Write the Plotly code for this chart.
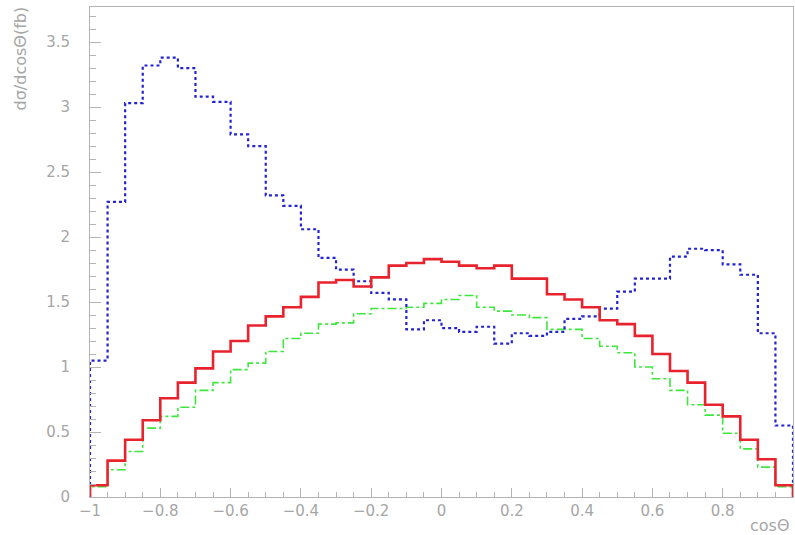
import plotly.graph_objects as go

# 40 bins of width 0.05 over cos(theta) in [-1, 1]
bin_edges = [round(-1 + 0.05 * i, 2) for i in range(41)]

blue_dsigma = [1.05, 2.27, 3.03, 3.32, 3.38, 3.30, 3.08, 3.04, 2.79, 2.70,
               2.32, 2.24, 2.06, 1.84, 1.75, 1.66, 1.57, 1.52, 1.29, 1.36,
               1.30, 1.27, 1.31, 1.18, 1.26, 1.24, 1.27, 1.37, 1.39, 1.45,
               1.58, 1.68, 1.68, 1.85, 1.91, 1.90, 1.79, 1.71, 1.26, 0.55]

red_dsigma = [0.09, 0.28, 0.44, 0.59, 0.76, 0.88, 0.99, 1.12, 1.20, 1.32,
              1.39, 1.46, 1.54, 1.65, 1.67, 1.62, 1.69, 1.78, 1.80, 1.83,
              1.81, 1.78, 1.76, 1.78, 1.68, 1.68, 1.56, 1.52, 1.46, 1.36,
              1.33, 1.24, 1.10, 0.97, 0.88, 0.71, 0.62, 0.44, 0.29, 0.09]

green_dsigma = [0.08, 0.21, 0.35, 0.53, 0.62, 0.69, 0.82, 0.88, 0.98, 1.03,
                1.12, 1.22, 1.26, 1.33, 1.34, 1.41, 1.45, 1.45, 1.46, 1.49,
                1.52, 1.55, 1.46, 1.43, 1.40, 1.38, 1.29, 1.29, 1.22, 1.16,
                1.11, 1.00, 0.91, 0.82, 0.71, 0.63, 0.49, 0.37, 0.23, 0.08]

x_ticks = [-1, -0.8, -0.6, -0.4, -0.2, 0, 0.2, 0.4, 0.6, 0.8, 1]
x_tick_text = ["\u22121", "\u22120.8", "\u22120.6", "\u22120.4", "\u22120.2",
               "0", "0.2", "0.4", "0.6", "0.8", "1"]
y_ticks = [0, 0.5, 1, 1.5, 2, 2.5, 3, 3.5]
y_tick_text = ["0", "0.5", "1", "1.5", "2", "2.5", "3", "3.5"]


def step_outline(edges, values):
    """Histogram outline: rise from zero at the first edge, drop to zero at the last."""
    xs = [edges[0]] + list(edges[:-1]) + [edges[-1], edges[-1]]
    ys = [0] + list(values) + [values[-1], 0]
    return xs, ys


fig = go.Figure()

series = [
    (green_dsigma, dict(color="#3ee63e", width=1.6, dash="dashdot")),
    (blue_dsigma, dict(color="#2323d2", width=2.2, dash="dot")),
    (red_dsigma, dict(color="#e8232d", width=2.6)),
]
for vals, line in series:
    xs, ys = step_outline(bin_edges, vals)
    fig.add_trace(go.Scatter(x=xs, y=ys, mode="lines",
                             line=dict(shape="hv", **line),
                             showlegend=False, hoverinfo="skip"))

axis_color = "#b4b4b4"
font_color = "#a6a6a6"
label_font = "DejaVu Sans"

fig.update_xaxes(
    range=[-1, 1], showgrid=False, zeroline=False,
    showline=True, linecolor=axis_color, linewidth=1, mirror=True,
    tickmode="array", tickvals=x_ticks, ticktext=x_tick_text,
    ticks="inside", ticklen=9, tickcolor=axis_color,
    minor=dict(dtick=0.05, tick0=-1, ticks="inside", ticklen=5,
               tickcolor=axis_color, showgrid=False),
    tickfont=dict(family=label_font, size=15, color=font_color),
)
fig.update_yaxes(
    range=[0, 3.77], showgrid=False, zeroline=False,
    showline=True, linecolor=axis_color, linewidth=1, mirror=True,
    tickmode="array", tickvals=y_ticks, ticktext=y_tick_text,
    ticks="inside", ticklen=11, tickcolor=axis_color,
    minor=dict(dtick=0.1, tick0=0, ticks="inside", ticklen=6,
               tickcolor=axis_color, showgrid=False),
    tickfont=dict(family=label_font, size=15, color=font_color),
    ticklabelstandoff=16,
)

fig.add_annotation(
    text="d\u03c3/dcos\u0398(fb)", textangle=-90,
    xref="paper", yref="paper", x=-0.099, y=1.006,
    xanchor="center", yanchor="top", showarrow=False,
    font=dict(family=label_font, size=16, color=font_color),
)
fig.add_annotation(
    text="cos\u0398",
    xref="paper", yref="paper", x=0.999, y=-0.034,
    xanchor="right", yanchor="top", showarrow=False,
    font=dict(family=label_font, size=16, color=font_color),
)

fig.update_layout(
    width=795, height=535,
    margin=dict(l=90, r=2, t=7, b=38),
    paper_bgcolor="white", plot_bgcolor="white",
)

fig.write_html("out.html")
